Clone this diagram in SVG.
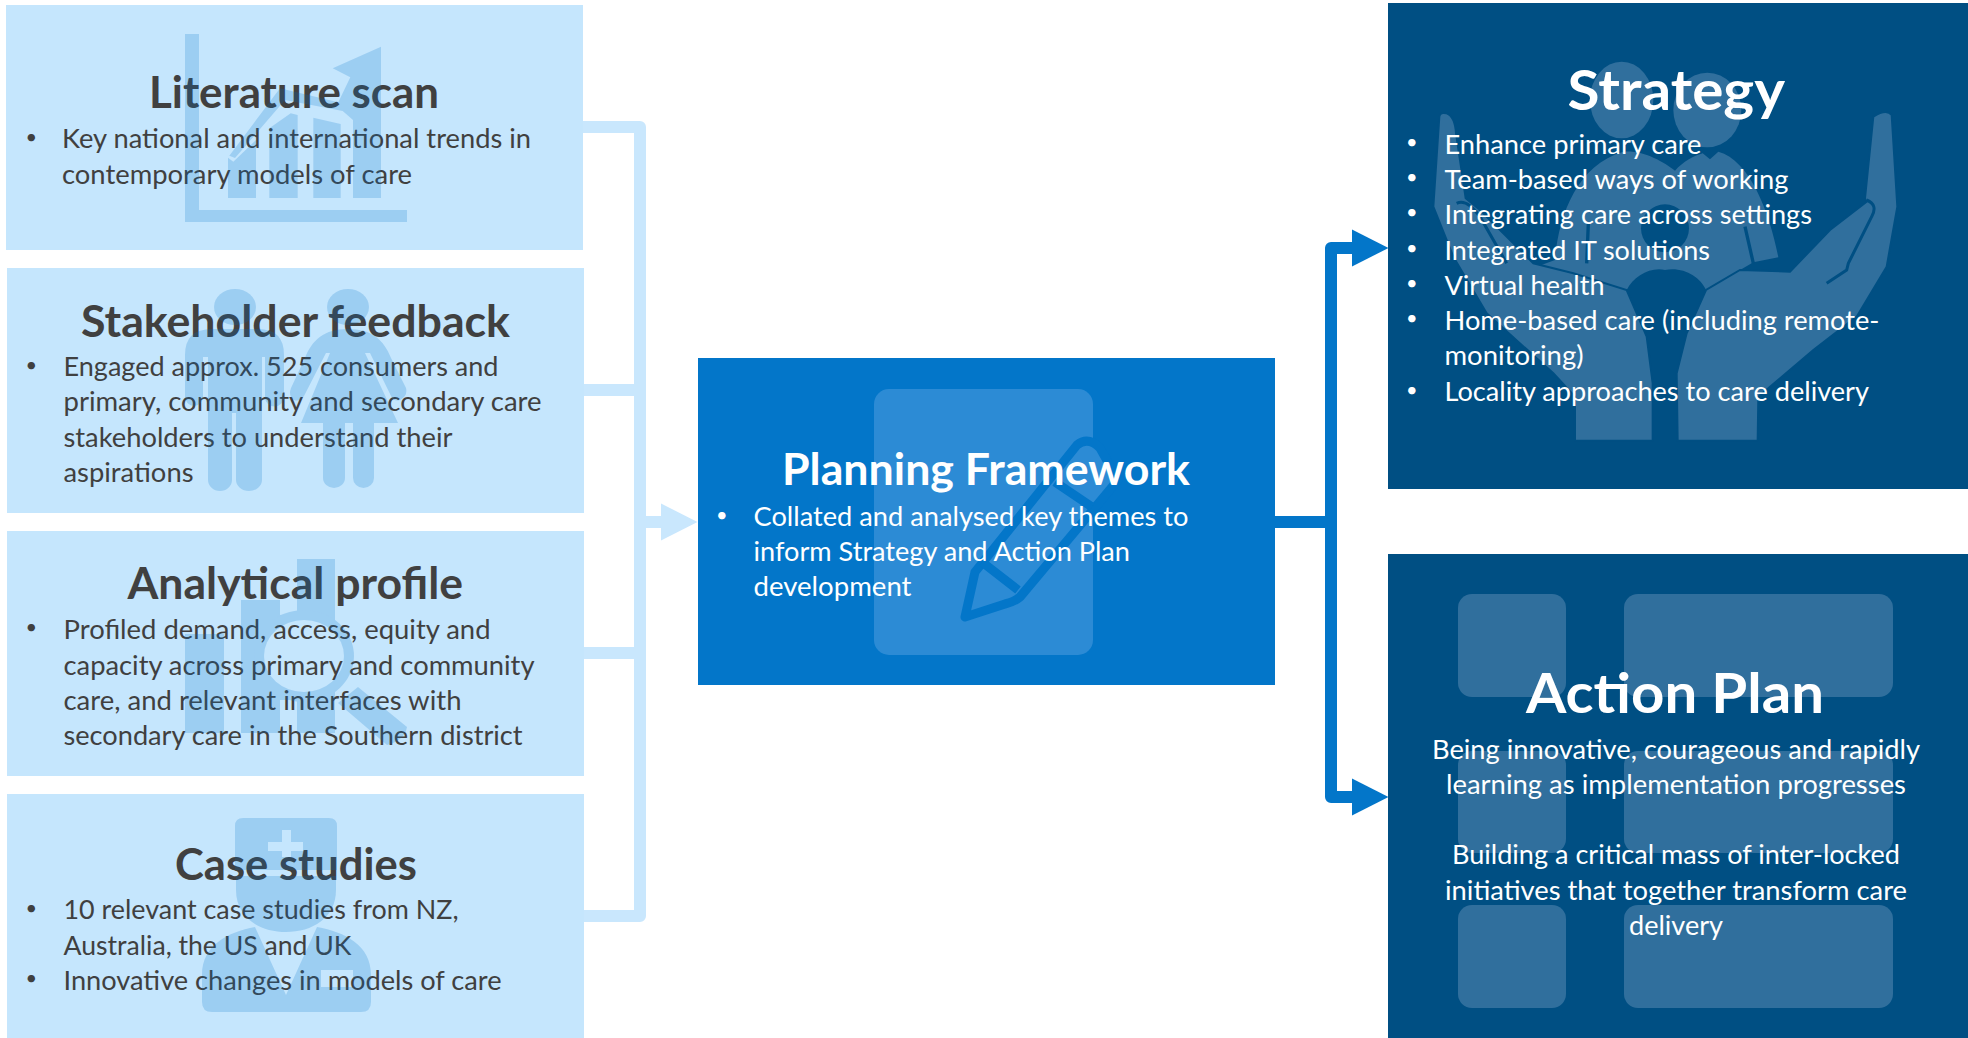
<svg xmlns="http://www.w3.org/2000/svg" width="1968" height="1038" viewBox="0 0 1968 1038">
<style>
text{font-family:"Lato","Carlito","Liberation Sans",sans-serif}
.t{font-weight:700;font-size:43px}
.b{font-size:26.5px}
.p{font-size:20px}
.bt{font-weight:700;font-size:56px}
.d{fill:#404040}
.w{fill:#ffffff}
.m{text-anchor:middle}
.light{fill:#C5E6FD}
.ic{fill:#0070C8;opacity:.2}
.sh{fill:#306F9D}
</style>
<defs>
<marker id="hl" markerUnits="userSpaceOnUse" markerWidth="37" markerHeight="38" refX="0" refY="19" orient="auto"><path d="M0,0.500L36.500,19L0,37.500Z" fill="#C9E7FD"/></marker>
<marker id="hb" markerUnits="userSpaceOnUse" markerWidth="37" markerHeight="38" refX="0" refY="19" orient="auto"><path d="M0,0.500L36.500,19L0,37.500Z" fill="#0376C9"/></marker>
<mask id="lens" maskUnits="userSpaceOnUse" x="170" y="550" width="260" height="210"><rect x="170" y="550" width="260" height="210" fill="#fff"/><ellipse cx="304" cy="656" rx="40" ry="36" fill="#000"/></mask>
</defs>

<g id="connectors" fill="none" stroke-linejoin="round">
<g stroke="#C9E7FD" stroke-width="12">
<path d="M583,127H640V916H584"/>
<path d="M584,390H640"/>
<path d="M584,653H640"/>
<path d="M640,522H661" marker-end="url(#hl)"/>
</g>
<g stroke="#0376C9" stroke-width="12">
<path d="M1275,522H1331"/>
<path d="M1331,522V248H1352" marker-end="url(#hb)"/>
<path d="M1331,522V797H1352" marker-end="url(#hb)"/>
</g>
</g>

<g id="literature-scan">
<rect class="light" x="6" y="5" width="577" height="245"/>
<text class="t d" x="149" y="108" textLength="290" lengthAdjust="spacingAndGlyphs">Literature scan</text>
<text class="p d" x="25.500" y="143.500">•</text>
<text class="b d" x="62" y="148" textLength="469" lengthAdjust="spacingAndGlyphs">Key national and international trends in</text>
<text class="b d" x="62" y="184" textLength="350" lengthAdjust="spacingAndGlyphs">contemporary models of care</text>
<g class="ic">
<path d="M185,34H199V210H407V222H185Z"/>
<path d="M229.300,155.700L280,88.300L338.300,102.300L350.300,77.300L332.700,68.300L381,46.700V198H353V120L342.700,111L285,100L235,158Z"/>
<path d="M228,157.700L233.300,161.700L256,140V198H228Z"/>
<path d="M269.300,128.300L290.700,113.300L297.700,115V198H269.300Z"/>
<path d="M313.300,117.700L340.700,124V198H313.300Z"/>
</g>
</g>

<g id="stakeholder-feedback">
<rect class="light" x="7" y="268" width="577" height="245"/>
<text class="t d" x="81" y="337" textLength="429" lengthAdjust="spacingAndGlyphs">Stakeholder feedback</text>
<text class="p d" x="25.600" y="372">•</text>
<text class="b d" x="63.500" y="376" textLength="435" lengthAdjust="spacingAndGlyphs">Engaged approx. 525 consumers and</text>
<text class="b d" x="63.500" y="411" textLength="478" lengthAdjust="spacingAndGlyphs">primary, community and secondary care</text>
<text class="b d" x="63.500" y="447" textLength="389" lengthAdjust="spacingAndGlyphs">stakeholders to understand their</text>
<text class="b d" x="63.500" y="482" textLength="130" lengthAdjust="spacingAndGlyphs">aspirations</text>
<g class="ic">
<ellipse cx="235" cy="307" rx="21" ry="18"/>
<ellipse cx="348" cy="307" rx="21" ry="18"/>
<path d="M185,397V355Q185,329 212,329H258Q284,329 284,355V397A9.500,9.500 0 0 1 265,397V357H262V480A13,11 0 0 1 236,480V413H232V480A12,11 0 0 1 208,480V357H203V397A9,9 0 0 1 185,397Z"/>
<path d="M348,329C372,329 384,340 391,358L406,388Q408,396 400,400Q394,402 391,396L370,353H365L398,423H374V478A10.500,10 0 0 1 353,478V423H345V478A11,10 0 0 1 323,478V423H301L330,353H326L304,396Q300,402 294,400Q288,396 291,388L305,358C312,340 324,329 348,329Z"/>
</g>
</g>

<g id="analytical-profile">
<rect class="light" x="7" y="531" width="577" height="245"/>
<text class="t d" x="127.500" y="599" textLength="335.500" lengthAdjust="spacingAndGlyphs">Analytical profile</text>
<text class="p d" x="25.600" y="634">•</text>
<text class="b d" x="63.500" y="639" textLength="427" lengthAdjust="spacingAndGlyphs">Profiled demand, access, equity and</text>
<text class="b d" x="63.500" y="675" textLength="471" lengthAdjust="spacingAndGlyphs">capacity across primary and community</text>
<text class="b d" x="63.500" y="710" textLength="398" lengthAdjust="spacingAndGlyphs">care, and relevant interfaces with</text>
<text class="b d" x="63.500" y="745" textLength="459" lengthAdjust="spacingAndGlyphs">secondary care in the Southern district</text>
<g class="ic">
<g mask="url(#lens)">
<rect x="185" y="634" width="39" height="99"/>
<path d="M241,600H280V615L297,612V559H335V733H297V700H280V733H241Z"/>
<ellipse cx="304" cy="656" rx="50" ry="46"/>
<path d="M338,703L358,687L407,727Q405,740 387,745Z"/>
</g>
</g>
</g>

<g id="case-studies">
<rect class="light" x="7" y="794" width="577" height="244"/>
<text class="t d" x="175" y="880" textLength="242" lengthAdjust="spacingAndGlyphs">Case studies</text>
<text class="p d" x="25.600" y="915">•</text>
<text class="b d" x="63.500" y="919" textLength="395" lengthAdjust="spacingAndGlyphs">10 relevant case studies from NZ,</text>
<text class="b d" x="63.500" y="955" textLength="288" lengthAdjust="spacingAndGlyphs">Australia, the US and UK</text>
<text class="p d" x="25.600" y="985">•</text>
<text class="b d" x="63.500" y="990" textLength="438" lengthAdjust="spacingAndGlyphs">Innovative changes in models of care</text>
<g class="ic">
<path fill-rule="evenodd" d="M235,826Q235,818 243,818H329Q337,818 337,826V870H235ZM282,830V842H268V851H282V857H291V851H303V842H291V830Z"/>
<path d="M236,876H336V890C336,918 312,932 286,932C260,932 236,918 236,890Z"/>
<path fill-rule="evenodd" d="M255,927L286,995L317,927C345,932 371,945 371,975V1002Q371,1012 361,1012H212Q202,1012 202,1002V975C202,945 228,932 255,927ZM321,970V987H353V970Z"/>
</g>
</g>

<g id="planning-framework">
<rect x="698" y="358" width="577" height="327" fill="#0376C9"/>
<rect x="874" y="389" width="219" height="266" rx="15" fill="#2C8BD5"/>
<path d="M965,617L975,572L1077,445Q1088,436 1100,448L1118,480L1020,597Q1014,602 1005,604Z" fill="#2C8BD5" stroke="#0376C9" stroke-width="9" stroke-linejoin="round"/>
<path d="M1055,482L1092,507M982,562L1018,590" fill="none" stroke="#0376C9" stroke-width="9"/>
<text class="t w" x="782" y="485" textLength="408" lengthAdjust="spacingAndGlyphs">Planning Framework</text>
<text class="p w" x="716" y="522">•</text>
<text class="b w" x="753.500" y="526" textLength="435" lengthAdjust="spacingAndGlyphs">Collated and analysed key themes to</text>
<text class="b w" x="753.500" y="561" textLength="376.500" lengthAdjust="spacingAndGlyphs">inform Strategy and Action Plan</text>
<text class="b w" x="753.500" y="596" textLength="158" lengthAdjust="spacingAndGlyphs">development</text>
</g>

<g id="strategy">
<rect x="1388" y="3" width="580" height="486" fill="#004F83"/>
<g transform="translate(1420,50) scale(.33333)">
<ellipse class="sh" cx="605" cy="150" rx="95" ry="115"/>
<ellipse class="sh" cx="862" cy="180" rx="102" ry="112"/>
<path class="sh" d="M405,630C415,500 470,345 610,305C670,300 730,335 765,362C790,335 820,318 848,310L870,328L895,305C990,330 1050,490 1075,622L1000,637L858,720C840,680 790,650 735,660C690,650 640,680 620,720L460,670L350,650Z"/>
<circle cx="735" cy="535" r="72" fill="#004F83"/>
<path d="M505,520L500,640M975,530L1000,640" fill="none" stroke="#004F83" stroke-width="10"/>
<path class="sh" stroke="#004F83" stroke-width="6" d="M58,200Q60,185 80,190Q105,200 108,250L137,445L180,480L340,640L460,670L620,720L680,860L698,1000V1172H465V1040L400,970L200,790L100,620L40,470Z"/>
<path class="sh" stroke="#004F83" stroke-width="6" d="M1360,200Q1400,175 1415,195L1432,470L1400,650L1310,800L1180,900L1015,1040L1013,1172H773L770,970L800,850L858,720L960,660L1110,665L1230,540L1340,455L1335,445Z"/>
<path d="M1340,450Q1375,465 1355,500L1285,640L1280,660L1220,700" fill="none" stroke="#004F83" stroke-width="9"/>
<path d="M110,460Q140,445 180,500L260,640" fill="none" stroke="#004F83" stroke-width="9"/>
</g>
<text class="bt w" x="1567.500" y="110" textLength="217.500" lengthAdjust="spacingAndGlyphs">Strategy</text>
<g class="b w">
<text class="p" x="1406" y="149">•</text><text x="1444.500" y="154" textLength="257" lengthAdjust="spacingAndGlyphs">Enhance primary care</text>
<text class="p" x="1406" y="184">•</text><text x="1444.500" y="189" textLength="344" lengthAdjust="spacingAndGlyphs">Team-based ways of working</text>
<text class="p" x="1406" y="219">•</text><text x="1444.500" y="224" textLength="367.500" lengthAdjust="spacingAndGlyphs">Integrating care across settings</text>
<text class="p" x="1406" y="255">•</text><text x="1444.500" y="260" textLength="265.500" lengthAdjust="spacingAndGlyphs">Integrated IT solutions</text>
<text class="p" x="1406" y="290">•</text><text x="1444.500" y="295" textLength="160" lengthAdjust="spacingAndGlyphs">Virtual health</text>
<text class="p" x="1406" y="325">•</text><text x="1444.500" y="330" textLength="435" lengthAdjust="spacingAndGlyphs">Home-based care (including remote-</text>
<text x="1444.500" y="365" textLength="139" lengthAdjust="spacingAndGlyphs">monitoring)</text>
<text class="p" x="1406" y="397">•</text><text x="1444.500" y="401" textLength="424.500" lengthAdjust="spacingAndGlyphs">Locality approaches to care delivery</text>
</g>
</g>

<g id="action-plan">
<rect x="1388" y="554" width="580" height="484" fill="#004F83"/>
<rect class="sh" x="1458" y="594" width="108" height="103" rx="14"/>
<rect class="sh" x="1624" y="594" width="269" height="103" rx="14"/>
<rect class="sh" x="1458" y="751" width="108" height="102" rx="14"/>
<rect class="sh" x="1624" y="751" width="269" height="102" rx="14"/>
<rect class="sh" x="1458" y="905" width="108" height="103" rx="14"/>
<rect class="sh" x="1624" y="905" width="269" height="103" rx="14"/>
<text class="bt w m" x="1675" y="713" textLength="298" lengthAdjust="spacingAndGlyphs">Action Plan</text>
<g class="b w m">
<text x="1676" y="759" textLength="488" lengthAdjust="spacingAndGlyphs">Being innovative, courageous and rapidly</text>
<text x="1676" y="794" textLength="460" lengthAdjust="spacingAndGlyphs">learning as implementation progresses</text>
<text x="1676" y="864" textLength="448" lengthAdjust="spacingAndGlyphs">Building a critical mass of inter-locked</text>
<text x="1676" y="900" textLength="462" lengthAdjust="spacingAndGlyphs">initiatives that together transform care</text>
<text x="1676" y="935" textLength="94" lengthAdjust="spacingAndGlyphs">delivery</text>
</g>
</g>
</svg>
